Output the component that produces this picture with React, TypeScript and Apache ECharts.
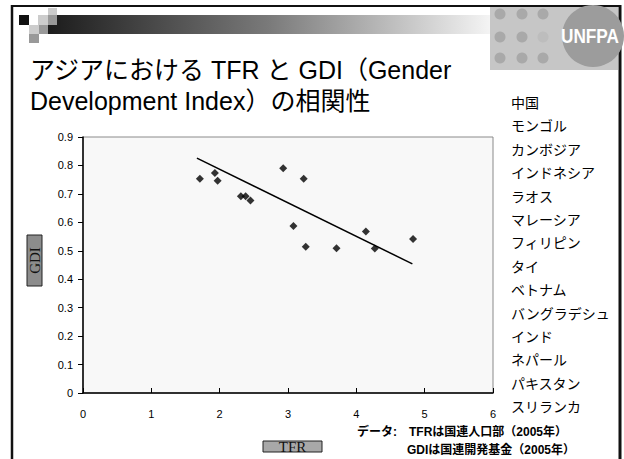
import React, { useEffect, useRef } from "react";
import * as echarts from "echarts";

const titleLines = ["アジアにおける TFR と GDI（Gender", "Development Index）の相関性"];
const countries = [
  "中国", "モンゴル", "カンボジア", "インドネシア", "ラオス", "マレーシア", "フィリピン",
  "タイ", "ベトナム", "バングラデシュ", "インド", "ネパール", "パキスタン", "スリランカ",
];
const tfr = [1.71, 1.93, 1.97, 2.31, 2.38, 2.45, 2.93, 3.23, 3.08, 3.26, 3.71, 4.14, 4.27, 4.83];
const gdi = [0.753, 0.773, 0.746, 0.692, 0.692, 0.677, 0.79, 0.753, 0.587, 0.514, 0.509, 0.568, 0.508, 0.541];
const trendX = [1.667, 4.82];
const trendY = [0.826, 0.454];
const sourceLines = ["データ:　TFRは国連人口部（2005年）", "GDIは国連開発基金（2005年）"];
const xName = "TFR";
const yName = "GDI";

const SANS = "'Liberation Sans', 'Noto Sans CJK JP', sans-serif";
const JP = "'Noto Sans CJK JP', 'Liberation Sans', sans-serif";
const SERIF = "'Liberation Serif', 'DejaVu Serif', serif";

export default function App() {
  const ref = useRef<HTMLDivElement>(null);
  useEffect(() => {
    document.body.style.margin = "0";
    const chart = echarts.init(ref.current!, undefined, { renderer: "svg" });

    const graphics: any[] = [];
    // frame
    graphics.push({ type: "rect", shape: { x: 0, y: 0, width: 624, height: 459 }, style: { fill: "#ffffff" }, z: -10 });
    graphics.push({ type: "line", shape: { x1: 11, y1: 6, x2: 621, y2: 6 }, style: { stroke: "#111", lineWidth: 2 } });
    graphics.push({ type: "line", shape: { x1: 12, y1: 5, x2: 12, y2: 459 }, style: { stroke: "#111", lineWidth: 2.5 } });
    graphics.push({ type: "line", shape: { x1: 620, y1: 5, x2: 620, y2: 459 }, style: { stroke: "#111", lineWidth: 3 } });
    // gradient bar
    graphics.push({
      type: "rect", shape: { x: 48, y: 15, width: 442, height: 19 },
      style: { fill: new echarts.graphic.LinearGradient(0, 0, 1, 0, [
        { offset: 0, color: "#1c1c1c" }, { offset: 0.5, color: "#7a7a7a" }, { offset: 1, color: "#f4f4f4" },
      ]) },
    });
    const sq = (x: number, y: number, w: number, h: number, c: string) =>
      graphics.push({ type: "rect", shape: { x, y, width: w, height: h }, style: { fill: c } });
    sq(19, 15, 10, 10, "#111");
    sq(29, 15, 9, 10, "#ffffff");
    sq(38, 15, 10, 10, "#cccccc");
    sq(48, 8, 9, 7, "#cccccc");
    sq(48, 15, 9, 10, "#999999");
    sq(29, 25, 10, 9, "#cccccc");
    sq(39, 25, 9, 9, "#999999");
    sq(29, 34, 10, 9, "#999999");
    // logo
    graphics.push({ type: "rect", shape: { x: 490, y: 7, width: 128, height: 63 }, style: { fill: "#c6c6c6" } });
    [500, 522, 543].forEach((cx, ci) =>
      [14, 37, 58].forEach((cy, ri) =>
        graphics.push({ type: "circle", shape: { cx, cy, r: 5.5 }, style: { fill: ci === 2 && ri === 1 ? "#bdbdbd" : "#a9a9a9" } })
      )
    );
    graphics.push({ type: "circle", shape: { cx: 593, cy: 36, r: 31 }, style: { fill: "#9c9c9c" } });
    graphics.push({
      type: "text", x: 561, y: 36, scaleX: 0.82,
      style: { text: "UNFPA", fill: "#ffffff", font: "bold 21px 'Liberation Sans', sans-serif", textVerticalAlign: "middle" },
    });
    // title
    titleLines.forEach((t, i) =>
      graphics.push({
        type: "text", x: 30, y: 70 + i * 31,
        style: { text: t, fill: "#000", fontSize: 25, fontFamily: SANS, textVerticalAlign: "middle" },
      })
    );
    // country list
    countries.forEach((c, i) =>
      graphics.push({
        type: "text", x: 511, y: 102 + i * 23.4,
        style: { text: c, fill: "#000", fontSize: 14, fontFamily: JP, textVerticalAlign: "middle" },
      })
    );
    // sources
    graphics.push({
      type: "text", x: 357, y: 432,
      style: { text: sourceLines[0], fill: "#000", fontSize: 12, fontWeight: "bold", fontFamily: SANS, textVerticalAlign: "middle" },
    });
    graphics.push({
      type: "text", x: 407, y: 450,
      style: { text: sourceLines[1], fill: "#000", fontSize: 12, fontWeight: "bold", fontFamily: SANS, textVerticalAlign: "middle" },
    });
    // axis name boxes
    graphics.push({ type: "rect", shape: { x: 27, y: 235, width: 15, height: 51 }, style: { fill: "#8c8c8c", stroke: "#222", lineWidth: 1 } });
    graphics.push({
      type: "text", x: 35, y: 260.5, rotation: Math.PI / 2,
      style: { text: yName, fill: "#111", fontSize: 15, fontFamily: SERIF, textAlign: "center", textVerticalAlign: "middle" },
    });
    graphics.push({ type: "rect", shape: { x: 263, y: 441, width: 59, height: 11 }, style: { fill: "#a8a8a8", stroke: "#222", lineWidth: 1 } });
    graphics.push({
      type: "text", x: 292.5, y: 447,
      style: { text: xName, fill: "#111", fontSize: 15, fontFamily: SERIF, textAlign: "center", textVerticalAlign: "middle" },
    });

    chart.setOption({
      animation: false,
      backgroundColor: "#ffffff",
      grid: {
        left: 83, top: 137, width: 410, height: 256, show: true,
        backgroundColor: "#f8f8f8", borderColor: "#8a8a8a", borderWidth: 1,
      },
      xAxis: {
        type: "value", min: 0, max: 6, interval: 1,
        axisLine: { lineStyle: { color: "#000", width: 1.5 } },
        axisTick: { inside: true, length: 5, lineStyle: { color: "#000" } },
        axisLabel: { color: "#000", fontSize: 11, fontFamily: SANS, margin: 15 },
        splitLine: { show: false },
      },
      yAxis: {
        type: "value", min: 0, max: 0.9, interval: 0.1,
        axisLine: { show: true, lineStyle: { color: "#000", width: 1.5 } },
        axisTick: { show: true, inside: false, length: 5, lineStyle: { color: "#000" } },
        axisLabel: {
          color: "#000", fontSize: 11, fontFamily: SANS, margin: 10,
          formatter: (v: number) => (v === 0 ? "0" : v.toFixed(1)),
        },
        splitLine: { show: false },
      },
      series: [
        {
          type: "line", data: trendX.map((x, i) => [x, trendY[i]]), symbol: "none",
          lineStyle: { color: "#000", width: 1.5 }, silent: true,
        },
        {
          type: "scatter", data: tfr.map((x, i) => [x, gdi[i]]), symbol: "diamond",
          symbolSize: 8, itemStyle: { color: "#000" },
        },
      ],
      graphic: { elements: graphics },
    });
    return () => chart.dispose();
  }, []);
  return <div ref={ref} style={{ position: "fixed", left: 0, top: 0, width: 624, height: 459 }} />;
}
